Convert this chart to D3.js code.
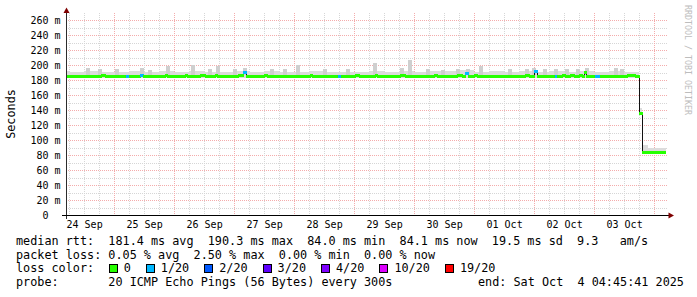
<!DOCTYPE html>
<html>
<head>
<meta charset="utf-8">
<script src="https://cdn.jsdelivr.net/npm/d3@7"></script>
<style>
  html, body { margin: 0; padding: 0; background: #fff; }
  svg { display: block; }
  text { font-family: "DejaVu Sans Mono", monospace; }
</style>
</head>
<body>
<div id="chart"></div>
<script>
// Hours are counted from 24 Sep 2025 00:00
const anchor = Date.UTC(2025, 8, 24);
const startHour = 4.7614;   // 24 Sep 04:45:41
const endHour = 244.7614;   // 04 Oct 04:45:41

const dayLabels = ['24 Sep', '25 Sep', '26 Sep', '27 Sep', '28 Sep', '29 Sep', '30 Sep', '01 Oct', '02 Oct', '03 Oct'];
const yTicks = [0, 20, 40, 60, 80, 100, 120, 140, 160, 180, 200, 220, 240, 260];

// median rtt (ms), step series, loss as pings lost out of 20
const medianHours = [4.76, 18.8, 20.4, 28.8, 30, 34.4, 35.6, 44.4, 45.2, 52.4,
  53.2, 58.4, 60.4, 64.4, 65.2, 73.6, 75.6, 76.8, 84, 85.2,
  102.4, 103.2, 113.6, 114.8, 120.4, 122, 128.4, 129.2, 138.4, 140.4,
  152, 153.2, 161.2, 163.2, 164.4, 165.6, 168, 169.2, 188.4, 190,
  192, 193.2, 200.4, 201.2, 203.2, 204.4, 206.4, 208, 210, 211.2,
  212, 212.8, 216.4, 218.4, 229.2, 232.4, 234, 235.2];
const medianMs = [186, 187, 186, 186, 186, 187, 186, 187, 186, 187,
  186, 187, 186, 187, 186, 187, 191, 186, 187, 186,
  187, 186, 186, 186, 187, 186, 187, 186, 187, 186,
  187, 186, 187, 186, 190, 186, 187, 186, 187, 186,
  192, 186, 186, 186, 187, 186, 187, 186, 187, 186,
  191, 186, 186, 186, 187, 186, 136, 84.1];
const medianLoss = [0, 0, 0, 1, 0, 1, 0, 0, 0, 0,
  0, 0, 0, 0, 0, 0, 1, 0, 0, 0,
  0, 0, 1, 0, 0, 0, 0, 0, 0, 0,
  0, 0, 0, 0, 1, 0, 0, 0, 0, 0,
  1, 0, 1, 0, 0, 0, 0, 0, 0, 0,
  0, 0, 1, 0, 0, 0, 0, 0];

// smoke band (spread of the 20 pings)
const smokeHours = [0, 6, 12, 18, 24, 30, 36, 42, 48, 54,
  60, 66, 72, 78, 84, 90, 96, 102, 108, 114,
  120, 126, 132, 138, 144, 150, 156, 162, 168, 174,
  180, 186, 192, 198, 204, 210, 216, 222, 228,
  234, 235.2, 237.6];
const smokeTop = [193, 192, 193, 192, 192, 193, 192, 193, 192, 193,
  192, 192, 193, 192, 193, 192, 192, 193, 192, 191,
  192, 193, 192, 193, 192, 193, 193, 194, 192, 193,
  192, 193, 192, 193, 192, 193, 192, 193, 192,
  143, 94, 90];
const smokeBottom = [184, 184, 184, 184, 184, 184, 184, 184, 184, 184,
  184, 184, 184, 184, 184, 184, 184, 184, 184, 184,
  184, 184, 184, 184, 184, 184, 184, 184, 184, 184,
  184, 184, 184, 184, 184, 184, 184, 184, 184,
  134, 83, 83];

// single slow pings poking out of the smoke
const spikeHours = [13.6, 18.4, 25.2, 35.2, 38.4, 45.6, 55.6, 62.4, 65.6, 72.4,
  76.4, 87.2, 92.4, 97.6, 108.4, 117.6, 128.4, 139.2, 142.4, 149.6,
  155.6, 161.6, 165.6, 170.8, 182.4, 189.2, 192, 196.4, 200.8, 205.2,
  209.6, 213.2, 224.8, 227.2];
const spikeTop = [197, 195, 196, 197, 194, 199, 201, 195, 199, 195,
  197, 196, 195, 201, 195, 195, 204, 197, 207, 196,
  194, 196, 196, 199, 195, 195, 197, 195, 196, 195,
  196, 197, 197, 196];

const lossLevels = [0, 1, 2, 3, 4, 10, 19];
const lossLabels = ['0', '1/20', '2/20', '3/20', '4/20', '10/20', '19/20'];
const lossColors = ['#26ff00', '#00b8ff', '#0059ff', '#5e00ff', '#7e00ff', '#dd00ff', '#ff0000'];

const legendLines = [
  'median rtt:  181.4 ms avg  190.3 ms max  84.0 ms min  84.1 ms now  19.5 ms sd  9.3   am/s',
  'packet loss: 0.05 % avg  2.50 % max  0.00 % min  0.00 % now'
];
const probeText = 'probe:       20 ICMP Echo Pings (56 Bytes) every 300s';
const endText = 'end: Sat Oct  4 04:45:41 2025';

const hourDate = h => new Date(anchor + h * 3600000);
const lossColor = l => lossColors[lossLevels.indexOf(l)];

const svg = d3.select('#chart')
  .append('svg')
  .attr('width', 697)
  .attr('height', 297);

const x = d3.scaleUtc()
  .domain([hourDate(startHour), hourDate(endHour)])
  .range([66, 666]);

const y = d3.scaleLinear()
  .domain([0, 270])
  .range([215.5, 13]);

svg.append('clipPath').attr('id', 'plot')
  .append('rect')
  .attr('x', 66).attr('y', 12)
  .attr('width', 600).attr('height', 204);

// Grid
const grid = svg.append('g').attr('shape-rendering', 'crispEdges');
const t0 = hourDate(startHour), t1 = hourDate(endHour);

d3.range(10, 270, 10).forEach(v => {
  grid.append('line')
    .attr('x1', 66).attr('x2', 668)
    .attr('y1', y(v)).attr('y2', y(v))
    .attr('stroke', v % 20 === 0 ? '#f4acac' : '#d6d6d6')
    .attr('stroke-dasharray', '1,1');
});

d3.utcHour.every(6).range(t0, t1).forEach(d => {
  const major = d.getUTCHours() === 0;
  grid.append('line')
    .attr('x1', x(d)).attr('x2', x(d))
    .attr('y1', 13).attr('y2', 215)
    .attr('stroke', major ? '#f4acac' : '#d6d6d6')
    .attr('stroke-dasharray', '1,1');
});

const plot = svg.append('g').attr('clip-path', 'url(#plot)');

// Smoke
plot.append('g')
  .attr('shape-rendering', 'crispEdges')
  .selectAll('rect')
  .data(smokeHours)
  .join('rect')
  .attr('x', h => x(hourDate(h)))
  .attr('width', (h, i) => x(hourDate(i < smokeHours.length - 1 ? smokeHours[i + 1] : endHour)) - x(hourDate(h)))
  .attr('y', (h, i) => y(smokeTop[i]))
  .attr('height', (h, i) => y(smokeBottom[i]) - y(smokeTop[i]))
  .attr('fill', '#dcdcdc');

plot.append('g')
  .attr('shape-rendering', 'crispEdges')
  .selectAll('rect')
  .data(spikeHours)
  .join('rect')
  .attr('x', h => x(hourDate(h - 0.9)))
  .attr('width', x(hourDate(1.8)) - x(hourDate(0)))
  .attr('y', (h, i) => y(spikeTop[i]))
  .attr('height', (h, i) => y(188) - y(spikeTop[i]))
  .attr('fill', '#cfcfcf');

// Median: thin black step line, loss coloured bars on top
const medianPts = medianHours.map((h, i) => [h, medianMs[i]]);
medianPts.push([endHour, medianMs[medianMs.length - 1]]);

plot.append('path')
  .datum(medianPts)
  .attr('fill', 'none')
  .attr('stroke', '#111')
  .attr('stroke-width', 1)
  .attr('shape-rendering', 'crispEdges')
  .attr('d', d3.line()
    .x(d => x(hourDate(d[0])))
    .y(d => y(d[1]))
    .curve(d3.curveStepAfter));

// bars overlap their neighbours a little so small steps hide the black line
plot.append('g')
  .attr('shape-rendering', 'crispEdges')
  .selectAll('rect')
  .data(medianHours)
  .join('rect')
  .attr('x', h => x(hourDate(h)) - 0.5)
  .attr('width', (h, i) => x(hourDate(i < medianHours.length - 1 ? medianHours[i + 1] : endHour)) - x(hourDate(h)) + 1)
  .attr('y', (h, i) => y(medianMs[i]) - 1.5)
  .attr('height', 3)
  .attr('fill', (h, i) => lossColor(medianLoss[i]));

// Axes
const xAxis = svg.append('g')
  .attr('transform', 'translate(0,215.5)')
  .call(d3.axisBottom(x)
    .tickValues(dayLabels.map((l, i) => hourDate(12 + i * 24)))
    .tickFormat((d, i) => dayLabels[i])
    .tickSize(0)
    .tickPadding(5));
xAxis.select('.domain').remove();
xAxis.selectAll('text')
  .style('font-size', '10px')
  .attr('fill', '#000');

const yAxis = svg.append('g')
  .attr('transform', 'translate(66.5,0)')
  .call(d3.axisLeft(y)
    .tickValues(yTicks)
    .tickFormat(v => v === 0 ? '0' : v + ' m')
    .tickSize(0)
    .tickPadding(6));
yAxis.select('.domain').remove();
yAxis.selectAll('text')
  .style('font-size', '10px')
  .attr('fill', '#000')
  .attr('dx', v => v === 0 ? -12 : 0);

// Axis lines and arrows
svg.append('line')
  .attr('x1', 66.5).attr('x2', 66.5).attr('y1', 12).attr('y2', 219)
  .attr('stroke', '#2c2c2c').attr('shape-rendering', 'crispEdges');
svg.append('line')
  .attr('x1', 62).attr('x2', 669).attr('y1', 215.5).attr('y2', 215.5)
  .attr('stroke', '#000').attr('shape-rendering', 'crispEdges');
svg.append('path')
  .attr('d', 'M66.5,7.5 L63.5,13 L69.5,13 Z')
  .attr('fill', '#7f0000');
svg.append('path')
  .attr('d', 'M674,215.5 L668.5,212.5 L668.5,218.5 Z')
  .attr('fill', '#7f0000');

// Titles
svg.append('text')
  .attr('transform', 'translate(15,114) rotate(-90)')
  .attr('text-anchor', 'middle')
  .style('font-size', '11.8px')
  .text('Seconds');

svg.append('text')
  .attr('transform', 'translate(684.5,5) rotate(90)')
  .attr('fill', '#bdbdbd')
  .style('font-size', '8.3px')
  .text('RRDTOOL / TOBI OETIKER');

// Legend
const legend = svg.append('g')
  .style('font-size', '11.8px')
  .attr('fill', '#000');

legendLines.forEach((line, i) => {
  legend.append('text')
    .attr('x', 16)
    .attr('y', 245 + i * 13.7)
    .attr('xml:space', 'preserve')
    .style('white-space', 'pre')
    .text(line);
});

legend.append('text')
  .attr('x', 16).attr('y', 272.4)
  .text('loss color:');

let cursor = 108.7;
lossLabels.forEach((label, i) => {
  legend.append('rect')
    .attr('x', cursor + 0.5).attr('y', 264.5)
    .attr('width', 8).attr('height', 8)
    .attr('fill', lossColors[i])
    .attr('stroke', '#000')
    .attr('shape-rendering', 'crispEdges');
  legend.append('text')
    .attr('x', cursor + 15).attr('y', 272.4)
    .text(label);
  cursor += 15 + label.length * 7.1 + 15;
});

legend.append('text')
  .attr('x', 16).attr('y', 286)
  .attr('xml:space', 'preserve')
  .style('white-space', 'pre')
  .text(probeText);

legend.append('text')
  .attr('x', 478).attr('y', 286)
  .attr('xml:space', 'preserve')
  .style('white-space', 'pre')
  .text(endText);
</script>
</body>
</html>
